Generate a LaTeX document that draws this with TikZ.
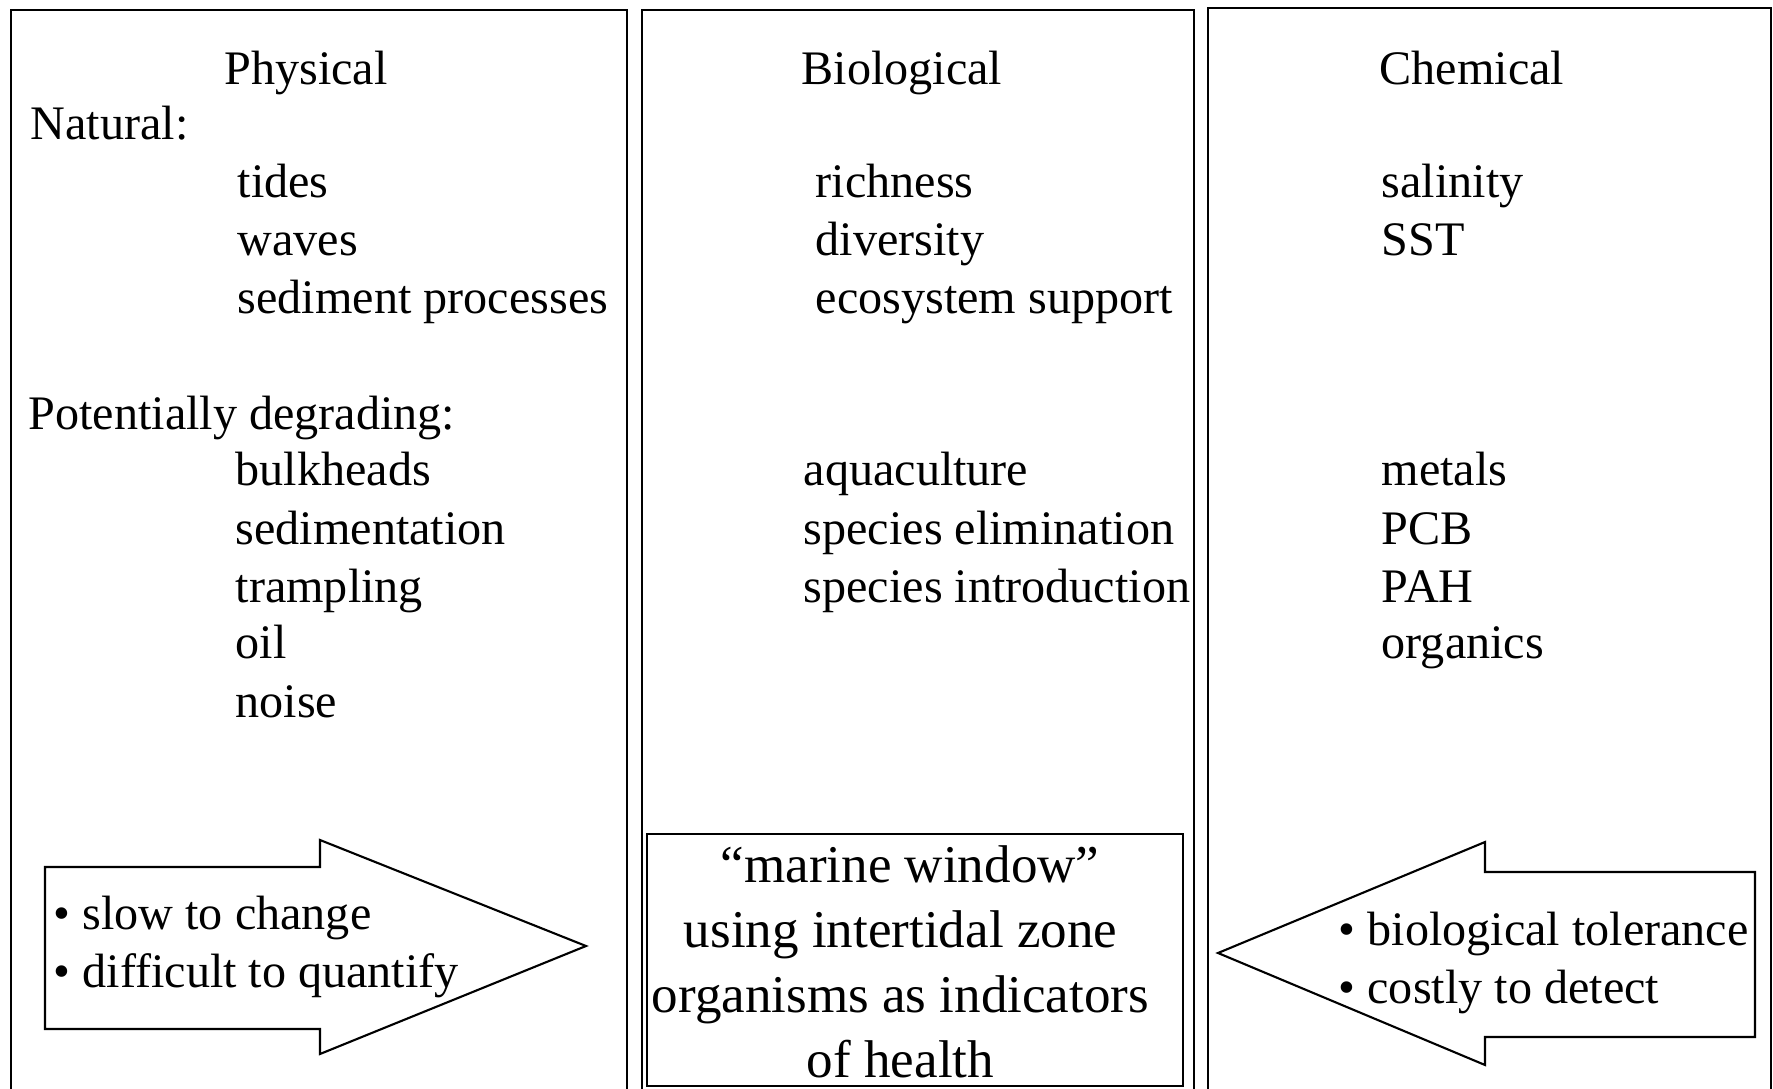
\documentclass[tikz,border=0pt]{standalone}
\usepackage{fontspec}
\setmainfont{Liberation Serif}
\usetikzlibrary{positioning}
\newcommand\colfont{\fontsize{13.7}{16.4}\selectfont}
\newcommand\winfont{\fontsize{15.1}{18.7}\selectfont}
\tikzset{
  panel/.style={draw=black, line width=0.6pt},
  heading/.style={anchor=base, inner sep=0pt, font=\colfont},
  entry/.style={anchor=base west, inner sep=0pt, font=\colfont},
  bigarrow/.style={draw=black, line width=0.6pt, line join=miter},
  winbox/.style={
    draw=black, line width=0.6pt,
    rectangle, anchor=north west, inner sep=0pt,
    minimum width=5.36cm, minimum height=2.52cm},
  winline/.style={anchor=base, inner sep=0pt, font=\winfont},
}
\begin{document}
\begin{tikzpicture}
  \useasboundingbox (0,0) rectangle (17.73,-10.89);
  % the three panels, open at the bottom
  \draw[panel] (0.11,-10.95) |- (6.27,-0.10) -- (6.27,-10.95);
  \draw[panel] (6.42,-10.95) |- (11.94,-0.10) -- (11.94,-10.95);
  \draw[panel] (12.08,-10.95) |- (17.71,-0.08) -- (17.71,-10.95);

  % physical
  \node[heading] (phys) at (3.06,-0.85) {Physical};
  \node[entry] (natural) at (0.30,-1.40) {Natural:};
  \node[entry] (tides) at (2.37,-1.98) {tides};
  \node[entry] (waves) at (2.37,-2.56) {waves};
  \node[entry] (sedproc) at (2.37,-3.14) {sediment processes};
  \node[entry] (degrading) at (0.28,-4.30) {Potentially degrading:};
  \node[entry] (bulk) at (2.35,-4.86) {bulkheads};
  \node[entry] (sedim) at (2.35,-5.44) {sedimentation};
  \node[entry] (tramp) at (2.35,-6.02) {trampling};
  \node[entry] (oil) at (2.35,-6.59) {oil};
  \node[entry] (noise) at (2.35,-7.17) {noise};

  % biological
  \node[heading] (bio) at (9.02,-0.85) {Biological};
  \node[entry] (rich) at (8.15,-1.98) {richness};
  \node[entry] (div) at (8.15,-2.56) {diversity};
  \node[entry] (ecosup) at (8.15,-3.14) {ecosystem support};
  \node[entry] (aqua) at (8.03,-4.86) {aquaculture};
  \node[entry] (elim) at (8.03,-5.44) {species elimination};
  \node[entry] (intro) at (8.03,-6.02) {species introduction};

  % chemical
  \node[heading] (chem) at (14.72,-0.85) {Chemical};
  \node[entry] (salin) at (13.81,-1.98) {salinity};
  \node[entry] (sst) at (13.81,-2.56) {SST};
  \node[entry] (metals) at (13.81,-4.86) {metals};
  \node[entry] (pcb) at (13.81,-5.44) {PCB};
  \node[entry] (pah) at (13.81,-6.02) {PAH};
  \node[entry] (organics) at (13.81,-6.59) {organics};

  % arrows pointing at the window
  \draw[bigarrow] (0.45,-8.67) -- (3.20,-8.67) -- (3.20,-8.40) -- (5.86,-9.46)
    -- (3.20,-10.54) -- (3.20,-10.29) -- (0.45,-10.29) -- cycle;
  \node[entry] (slow) at (0.53,-9.29) {\textbullet\ slow to change};
  \node[entry] (quant) at (0.53,-9.87) {\textbullet\ difficult to quantify};

  \draw[bigarrow] (17.55,-8.72) -- (14.85,-8.72) -- (14.85,-8.42) -- (12.18,-9.53)
    -- (14.85,-10.65) -- (14.85,-10.37) -- (17.55,-10.37) -- cycle;
  \node[entry] (toler) at (13.38,-9.45) {\textbullet\ biological tolerance};
  \node[entry] (costly) at (13.38,-10.03) {\textbullet\ costly to detect};

  % marine window
  \node[winbox] (window) at (6.46,-8.33) {};
  \node[winline] (win1) at (9.10,-8.82) {``marine window''};
  \node[winline] (win2) at (9.005,-9.475) {using intertidal zone};
  \node[winline] (win3) at (9.005,-10.12) {organisms as indicators};
  \node[winline] (win4) at (9.005,-10.776) {of health};
\end{tikzpicture}
\end{document}
